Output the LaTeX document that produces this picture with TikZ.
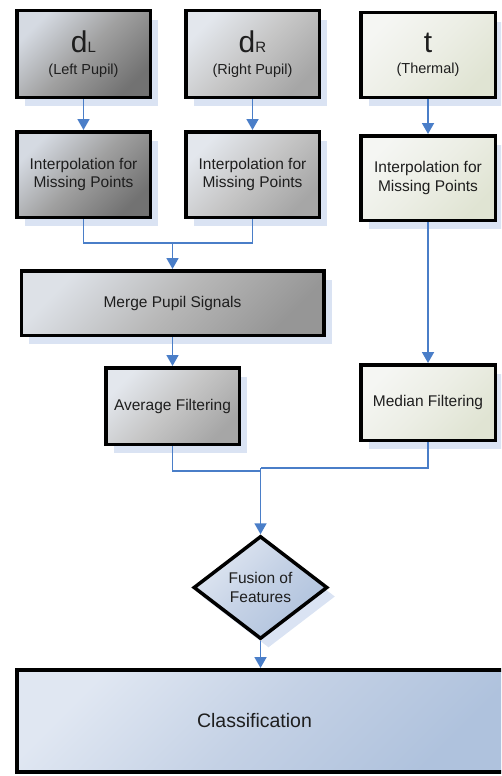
\documentclass[tikz,border=0pt]{standalone}
\usepackage{fontspec}
\setmainfont{Liberation Sans}
\usetikzlibrary{arrows.meta,shapes.geometric,shadows}
\definecolor{connc}{HTML}{4A7EC8}
\definecolor{shadowc}{HTML}{DAE3F3}
\definecolor{txtc}{HTML}{1E1E1E}
\definecolor{dkA}{HTML}{D5DAE2}\definecolor{dkB}{HTML}{A0A0A0}\definecolor{dkC}{HTML}{727272}
\definecolor{ltA}{HTML}{E3E7ED}\definecolor{ltB}{HTML}{C6C6C6}\definecolor{ltC}{HTML}{A6A6A6}
\definecolor{mdA}{HTML}{DDE1E7}\definecolor{mdB}{HTML}{B8B8B8}\definecolor{mdC}{HTML}{969696}
\definecolor{bgA}{HTML}{F5F6F3}\definecolor{bgB}{HTML}{ECEEE5}\definecolor{bgC}{HTML}{E0E4D3}
\definecolor{blA}{HTML}{E0E7F2}\definecolor{blB}{HTML}{C4D1E5}\definecolor{blC}{HTML}{AFC2DD}
\begin{document}
\begin{tikzpicture}[x=1pt,y=-1pt,
  box/.style={draw=black, line width=3.5pt, rectangle, inner sep=0pt, align=center,
    font=\fontsize{15.5}{18.5}\selectfont, text=txtc,
    drop shadow={shadow xshift=8pt, shadow yshift=-9pt, fill=shadowc, opacity=1}},
  gdark/.style={top color=dkA, bottom color=dkC, middle color=dkB, shading angle=45},
  glight/.style={top color=ltA, bottom color=ltC, middle color=ltB, shading angle=45},
  gmid/.style={top color=mdA, bottom color=mdC, middle color=mdB, shading angle=45},
  gbeige/.style={top color=bgA, bottom color=bgC, middle color=bgB, shading angle=45},
  gblue/.style={top color=blA, bottom color=blC, middle color=blB, shading angle=45},
  conn/.style={draw=connc, line width=1.8pt},
  arr/.style={conn, -{Triangle[width=12pt,length=11pt]}},
]
\clip (0,0) rectangle (501,776);
\useasboundingbox (0,0) rectangle (501,776);

\node[box, gdark, minimum width=133.5pt, minimum height=86.5pt] (dL) at (83.5,54)
  {{\fontsize{30}{30}\selectfont d}{\fontsize{15}{15}\selectfont L}\\[3pt]{\fontsize{14.5}{16}\selectfont (Left Pupil)}};
\node[box, glight, minimum width=133.5pt, minimum height=86.5pt] (dR) at (252.5,54)
  {{\fontsize{30}{30}\selectfont d}{\fontsize{15}{15}\selectfont R}\\[3pt]{\fontsize{14.5}{16}\selectfont (Right Pupil)}};
\node[box, gbeige, minimum width=134.5pt, minimum height=84.5pt] (t) at (428,55)
  {{\fontsize{30}{30}\selectfont t}\\[3pt]{\fontsize{14.5}{16}\selectfont (Thermal)}};

\node[box, gdark, minimum width=133.5pt, minimum height=85.5pt] (iL) at (83.5,174.5)
  {Interpolation for\\Missing Points};
\node[box, glight, minimum width=133.5pt, minimum height=85.5pt] (iR) at (252.5,174.5)
  {Interpolation for\\Missing Points};
\node[box, gbeige, minimum width=134.5pt, minimum height=84.5pt] (iT) at (428,178)
  {Interpolation for\\Missing Points};

\node[box, gmid, minimum width=302.5pt, minimum height=64.5pt] (merge) at (172.5,303)
  {Merge Pupil Signals};
\node[box, glight, minimum width=133.5pt, minimum height=76.5pt] (avg) at (172.5,406)
  {Average Filtering};
\node[box, gbeige, minimum width=134.5pt, minimum height=75.5pt] (median) at (428,402.5)
  {Median Filtering};

\node[box, gblue, diamond, aspect=1.3, minimum width=134pt, minimum height=103pt] (fusion) at (260.5,587.5)
  {Fusion of\\Features};

\node[draw=black, line width=4pt, rectangle, inner sep=0pt, gblue, text=txtc,
  font=\fontsize{19.5}{22}\selectfont, minimum width=491pt, minimum height=102pt] (class) at (262.5,721)
  {\hspace*{-16pt}Classification};

\coordinate (j1) at (172.5,243);
\coordinate (j2) at (260.5,468);
\coordinate (j3) at (260.5,471);

\draw[arr] (dL) -- (iL);
\draw[arr] (dR) -- (iR);
\draw[arr] (t) -- (iT);
\draw[conn] (iL.south) |- (j1) -| (iR.south);
\draw[arr] (j1) -- (merge.north);
\draw[arr] (merge) -- (avg);
\draw[arr] (iT) -- (median);
\draw[conn] (avg.south) |- (j3);
\draw[conn] (median.south) |- (j2);
\draw[arr] (j2) -- (fusion.north);
\draw[arr] (fusion.south) -- (fusion.south |- class.north);
\end{tikzpicture}
\end{document}
